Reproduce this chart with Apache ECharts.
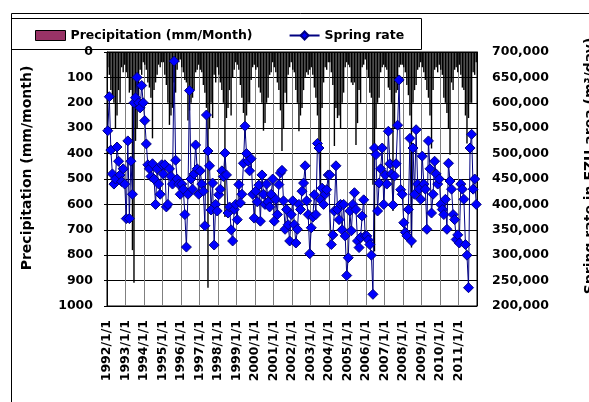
<!DOCTYPE html>
<html>
<head>
<meta charset="utf-8">
<script src="https://cdn.jsdelivr.net/npm/echarts@6/dist/echarts.min.js"></script>
<style>
  html, body { margin: 0; padding: 0; background: #fff; }
  #chart { width: 589px; height: 402px; }
</style>
</head>
<body>
<div id="chart"></div>
<script>
// monthly values, Jan 1992 .. Dec 2011 (one row per year)
const startYear = 1992
const yearCount = 20

const precipitation = [
  60, 90, 150, 180, 200, 300, 250, 150, 200, 60, 80, 50,
  80, 100, 160, 150, 780, 908, 350, 300, 200, 70, 90, 40,
  50, 70, 120, 140, 180, 340, 150, 120, 90, 50, 60, 40,
  40, 90, 130, 200, 287, 250, 220, 120, 160, 70, 40, 30,
  60, 80, 110, 120, 270, 230, 200, 180, 150, 80, 70, 50,
  70, 80, 130, 160, 220, 928, 300, 200, 260, 90, 120, 60,
  90, 120, 150, 200, 650, 260, 220, 150, 250, 100, 70, 40,
  50, 70, 130, 180, 240, 340, 250, 200, 200, 110, 60, 50,
  70, 60, 140, 160, 200, 310, 280, 200, 180, 90, 80, 40,
  60, 80, 120, 150, 230, 390, 300, 160, 200, 90, 60, 40,
  70, 80, 150, 200, 312, 250, 220, 150, 100, 80, 90, 70,
  60, 90, 140, 180, 250, 380, 536, 220, 120, 60, 70, 40,
  40, 80, 130, 370, 220, 260, 250, 300, 200, 160, 60, 40,
  50, 60, 120, 130, 120, 366, 280, 150, 200, 60, 50, 30,
  70, 100, 160, 180, 523, 785, 300, 200, 180, 80, 60, 50,
  60, 70, 140, 150, 200, 626, 300, 160, 150, 60, 50, 50,
  60, 80, 130, 170, 250, 770, 200, 150, 130, 70, 60, 40,
  60, 80, 110, 150, 180, 250, 380, 150, 70, 60, 80, 50,
  70, 90, 180, 200, 240, 300, 405, 120, 150, 70, 60, 80,
  50, 90, 140, 150, 250, 360, 260, 200, 200, 80, 90, 40
]

const springRate = [
  545000, 612000, 507000, 460000, 440000, 450000, 513000, 485000, 458000, 445000, 470000, 440000,
  372000, 525000, 372000, 485000, 420000, 600000, 610000, 650000, 600000, 590000, 634000, 600000,
  565000, 519000, 478000, 470000, 455000, 480000, 450000, 400000, 470000, 440000, 420000, 478000,
  460000, 478000, 395000, 400000, 470000, 455000, 440000, 682000, 487000, 450000, 440000, 420000,
  440000, 430000, 380000, 316000, 420000, 624000, 450000, 430000, 460000, 517000, 470000, 420000,
  466000, 440000, 426000, 358000, 576000, 505000, 476000, 389000, 442000, 320000, 400000, 387000,
  419000, 430000, 466000, 455000, 501000, 458000, 383000, 395000, 350000, 328000, 390000, 400000,
  370000, 439000, 403000, 420000, 481000, 554000, 500000, 485000, 466000, 490000, 420000, 373000,
  426000, 405000, 438000, 367000, 458000, 420000, 400000, 440000, 405000, 395000, 420000, 450000,
  367000, 410000, 380000, 439000, 462000, 467000, 407000, 351000, 390000, 360000, 328000, 380000,
  407000, 360000, 324000, 351000, 400000, 390000, 426000, 442000, 476000, 407000, 380000, 303000,
  354000, 375000, 419000, 380000, 520000, 511000, 409000, 432000, 400000, 420000, 429000, 458000,
  458000, 321000, 340000, 387000, 476000, 390000, 370000, 400000, 350000, 400000, 338000, 260000,
  295000, 387000, 348000, 400000, 423000, 390000, 328000, 315000, 335000, 377000, 409000, 338000,
  338000, 330000, 321000, 300000, 223000, 511000, 498000, 387000, 442000, 470000, 511000, 400000,
  458000, 440000, 544000, 480000, 460000, 399000, 456000, 480000, 556000, 645000, 429000, 420000,
  364000, 345000, 338000, 390000, 530000, 328000, 511000, 420000, 547000, 440000, 430000, 410000,
  495000, 440000, 430000, 351000, 525000, 470000, 383000, 420000, 485000, 460000, 440000, 450000,
  400000, 390000, 380000, 410000, 351000, 481000, 446000, 430000, 380000, 370000, 331000, 340000,
  324000, 440000, 430000, 410000, 321000, 300000, 236000, 511000, 538000, 430000, 450000, 400000
]

const precipTicks = {min: 0, max: 1000, interval: 100}
const rateTicks = {min: 200000, max: 700000, interval: 50000}

const font = 'DejaVu Sans'
const labelSize = 12.5
const chart = echarts.init(document.getElementById('chart'))

// x position = month index, centred in its month
const precipData = precipitation.map((v, i) => [i + 0.5, v])
const rateData = springRate.map((v, i) => [i + 0.5, v])

const option = {
  animation: false,
  textStyle: {fontFamily: font},
  grid: {
    left: 107,
    right: 112,
    top: 52,
    bottom: 96,
    show: true,
    borderColor: '#000',
    borderWidth: 1
  },
  legend: {
    left: 30,
    top: 24,
    itemWidth: 30,
    itemHeight: 10,
    itemGap: 36,
    textStyle: {fontFamily: font, fontWeight: 'bold', fontSize: labelSize, color: '#000'},
    data: [
      {name: 'Precipitation (mm/Month)', icon: 'rect', itemStyle: {color: '#993366', borderColor: '#000', borderWidth: 1}},
      {name: 'Spring rate'}
    ]
  },
  xAxis: {
    type: 'value',
    min: 0,
    max: yearCount * 12,
    interval: 12,
    axisLine: {lineStyle: {color: '#000', width: 1}},
    axisTick: {show: false},
    splitLine: {show: true, lineStyle: {color: '#808080', width: 1}},
    axisLabel: {
      rotate: 90,
      margin: 14,
      color: '#000',
      fontFamily: font,
      fontWeight: 'bold',
      fontSize: labelSize,
      showMaxLabel: false,
      formatter: (v) => v < yearCount * 12 ? (startYear + v / 12) + '/1/1' : ''
    }
  },
  yAxis: [
    {
      type: 'value',
      inverse: true,
      min: precipTicks.min,
      max: precipTicks.max,
      interval: precipTicks.interval,
      axisLine: {show: true, lineStyle: {color: '#000'}},
      axisTick: {show: true, length: 3, lineStyle: {color: '#000'}},
      splitLine: {show: true, lineStyle: {color: '#000', width: 1}},
      axisLabel: {
        color: '#000', fontFamily: font, fontWeight: 'bold', fontSize: labelSize, margin: 14,
        formatter: (v) => String(v)
      }
    },
    {
      type: 'value',
      min: rateTicks.min,
      max: rateTicks.max,
      interval: rateTicks.interval,
      position: 'right',
      axisLine: {show: true, lineStyle: {color: '#000'}},
      axisTick: {show: false},
      splitLine: {show: false},
      axisLabel: {
        color: '#000', fontFamily: font, fontWeight: 'bold', fontSize: labelSize, margin: 15,
        formatter: (v) => v.toLocaleString('en-US')
      }
    }
  ],
  graphic: [
    // outer chart frame (top and left edges visible)
    {type: 'polyline', silent: true, z: 0, shape: {points: [[11.5, 402], [11.5, 13.5], [589, 13.5]]}, style: {stroke: '#000', lineWidth: 1, fill: null}},
    // legend box
    {type: 'rect', silent: true, z: 0, shape: {x: 11.5, y: 18.5, width: 410, height: 31}, style: {stroke: '#000', lineWidth: 1, fill: null}},
    {
      type: 'text', silent: true, x: 27, y: 168, rotation: Math.PI / 2,
      style: {text: 'Precipitation (mm/month)', font: 'bold 14px "DejaVu Sans"', fill: '#000', align: 'center', verticalAlign: 'middle'}
    },
    {
      type: 'text', silent: true, x: 590, y: 166, rotation: Math.PI / 2,
      style: {text: 'Spring rate in EZU area (m³/day)', font: 'bold 14px "DejaVu Sans"', fill: '#000', align: 'center', verticalAlign: 'middle'}
    }
  ],
  series: [
    {
      name: 'Precipitation (mm/Month)',
      type: 'bar',
      yAxisIndex: 0,
      barWidth: 1.4,
      itemStyle: {color: '#000'},
      data: precipData
    },
    {
      name: 'Spring rate',
      type: 'line',
      yAxisIndex: 1,
      symbol: 'diamond',
      symbolSize: 10,
      lineStyle: {color: '#000080', width: 1},
      itemStyle: {color: '#0000ff', borderColor: '#000080', borderWidth: 1},
      data: rateData
    }
  ]
}

chart.setOption(option)
</script>
</body>
</html>
